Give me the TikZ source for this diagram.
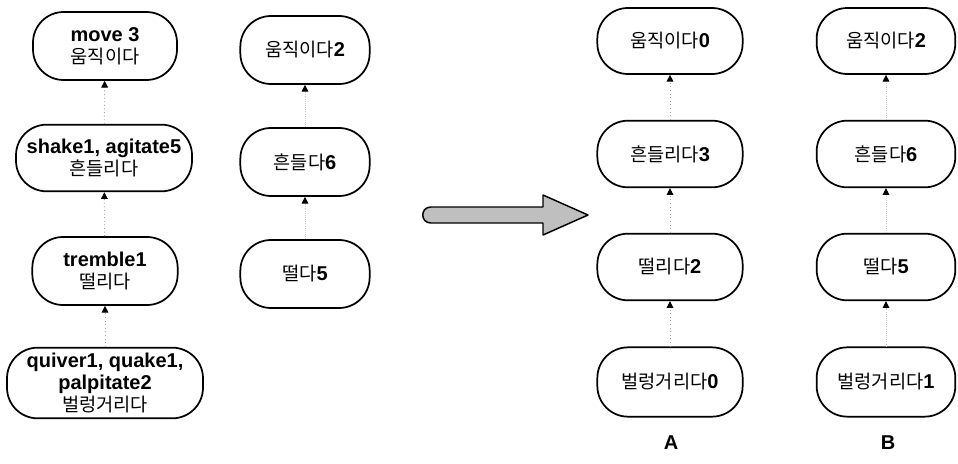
\documentclass[tikz,border=0pt]{standalone}
\usepackage{fontspec}
\setmainfont{Liberation Sans}
\newfontfamily\kr{Noto Sans CJK KR}
\usetikzlibrary{arrows.meta}
\begin{document}
\begin{tikzpicture}[x=0.75pt,y=-0.75pt,
  nd/.style={draw=black, line width=1.3pt, rounded corners=23pt, align=center,
    inner sep=0pt, font=\bfseries\fontsize{15}{16.5}\selectfont},
  up/.style={draw=gray!70, line width=0.7pt, dotted, -{Triangle[length=5pt,width=5pt,fill=black,color=black]}},
  upf/.style={draw=gray!45, line width=0.6pt, densely dotted, -{Triangle[length=5pt,width=5pt,fill=black,color=black]}},
  lab/.style={font=\bfseries\fontsize{15}{16}\selectfont}
]
\useasboundingbox (0,0) rectangle (958,464);
\newcommand{\K}[1]{{\kr\mdseries\fontsize{14}{16.5}\selectfont #1}}
% left column
\node[nd, minimum width=108pt, minimum height=51pt] (l1) at (105,46) {move 3\\\K{움직이다}};
\node[nd, minimum width=132pt, minimum height=50pt] (l2) at (104,158) {shake1, agitate5\\\K{흔들리다}};
\node[nd, minimum width=109pt, minimum height=51pt] (l3) at (105,271) {tremble1\\\K{떨리다}};
\node[nd, minimum width=147pt, minimum height=53pt] (l4) at (105,383) {quiver1, quake1,\\palpitate2\\\K{벌렁거리다}};
\draw[up] (l2) -- (l1);
\draw[up] (l3) -- (l2);
\draw[up] (l4) -- (l3);
% second column
\node[nd, minimum width=97pt, minimum height=51pt] (m1) at (305,50) {\K{움직이다}2};
\node[nd, minimum width=97pt, minimum height=51pt] (m2) at (305,162) {\K{흔들다}6};
\node[nd, minimum width=97pt, minimum height=51pt] (m3) at (305,274) {\K{떨다}5};
\draw[upf] (m2) -- (m1);
\draw[upf] (m3) -- (m2);
% big arrow
\draw[line width=1.1pt, fill=gray!50, line join=round]
  (543,207) -- (431,207) .. controls (420,207) and (420,223) .. (431,223)
  -- (543,223) -- (543,235) -- (588,215) -- (543,195) -- cycle;
% column A
\node[nd, minimum width=109pt, minimum height=49.5pt] (a1) at (670,41) {\K{움직이다}0};
\node[nd, minimum width=109pt, minimum height=50pt] (a2) at (670,154) {\K{흔들리다}3};
\node[nd, minimum width=109pt, minimum height=50pt] (a3) at (670,267) {\K{떨리다}2};
\node[nd, minimum width=109pt, minimum height=52pt] (a4) at (670,382) {\K{벌렁거리다}0};
\draw[up] (a2) -- (a1);
\draw[up] (a3) -- (a2);
\draw[up] (a4) -- (a3);
% column B
\node[nd, minimum width=104pt, minimum height=49.5pt] (b1) at (886,41) {\K{움직이다}2};
\node[nd, minimum width=104pt, minimum height=50pt] (b2) at (886,154) {\K{흔들다}6};
\node[nd, minimum width=104pt, minimum height=50pt] (b3) at (886,267) {\K{떨다}5};
\node[nd, minimum width=104pt, minimum height=52pt] (b4) at (886,382) {\K{벌렁거리다}1};
\draw[upf] (b2) -- (b1);
\draw[upf] (b3) -- (b2);
\draw[upf] (b4) -- (b3);
% labels
\node[lab] (la) at (671,443) {A};
\node[lab] (lb) at (888,443) {B};
\end{tikzpicture}
\end{document}
